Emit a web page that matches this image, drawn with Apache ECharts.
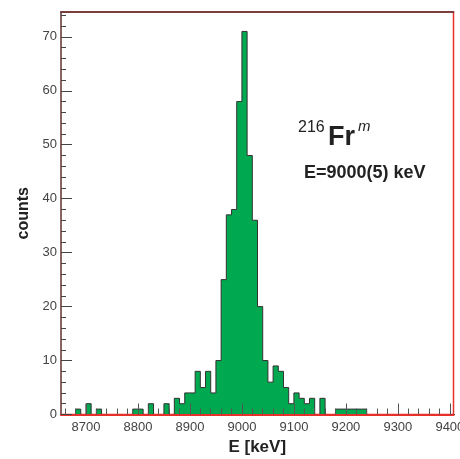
<!DOCTYPE html>
<html>
<head>
<meta charset="utf-8">
<script src="https://cdn.jsdelivr.net/npm/echarts@6/dist/echarts.min.js"></script>
<style>html,body{margin:0;padding:0;background:#fff}#c{width:460px;height:459px}</style>
</head>
<body>
<div id="c"></div>
<script>
// Histogram bins (left edges, keV) and counts
const binStart = [
  8650,8660,8670,8680,8690,8700,8710,8720,8730,8740,
  8750,8760,8770,8780,8790,8800,8810,8820,8830,8840,
  8850,8860,8870,8880,8890,8900,8910,8920,8930,8940,
  8950,8960,8970,8980,8990,9000,9010,9020,9030,9040,
  9050,9060,9070,9080,9090,9100,9110,9120,9130,9140,
  9150,9160,9170,9180,9190,9200,9210,9220,9230,9240,
  9250,9260,9270,9280,9290,9300,9310,9320,9330,9340,
  9350,9360,9370,9380,9390,9400
];
const counts = [
  0,0,0,1,0,2,0,1,0,0,
  0,0,0,0,1,1,0,2,0,0,
  2,0,3,2,4,4,8,5,8,4,
  10,25,37,38,58,71,48,36,20,10,
  6,9,8,5,2,4,3,2,3,0,
  3,0,0,1,1,1,1,1,1,0,
  0,0,0,0,0,0,0,0,0,0,
  0,0,0,0,0,0
];
const binWidth = 10;
const xMajorTicks = [8700,8800,8900,9000,9100,9200,9300,9400];
const xMinorTicks = [8660,8680,8700,8720,8740,8760,8780,8800,8820,8840,8860,8880,8900,8920,8940,8960,8980,9000,9020,9040,9060,9080,9100,9120,9140,9160,9180,9200,9220,9240,9260,9280,9300,9320,9340,9360,9380,9400];
const yMajorTicks = [0,10,20,30,40,50,60,70];
const yMinorTicks = [0,2,4,6,8,10,12,14,16,18,20,22,24,26,28,30,32,34,36,38,40,42,44,46,48,50,52,54,56,58,60,62,64,66,68,70,72,74];

const stepData = binStart.map((e, i) => [e, counts[i]]);
stepData.push([binStart[binStart.length - 1] + binWidth, counts[counts.length - 1]]);

const FONT = 'Liberation Sans, Arial, Helvetica, sans-serif';
const XMIN = 8652, XMAX = 9407, YMAX = 74.6;

const chart = echarts.init(document.getElementById('c'), null, {renderer: 'canvas'});
chart.setOption({
  animation: false,
  backgroundColor: '#fff',
  grid: {left: 61, right: 6.5, top: 12, bottom: 44.5, containLabel: false, outerBoundsMode: 'none',
         show: true, borderColor: '#e8302a', borderWidth: 1.5, backgroundColor: 'transparent'},
  xAxis: [
    {type: 'value', min: XMIN, max: XMAX, position: 'bottom', z: 5,
     name: 'E [keV]', nameLocation: 'middle', nameGap: 24,
     nameTextStyle: {fontFamily: FONT, fontWeight: 'bold', fontSize: 17, color: '#222'},
     axisLine: {show: true, lineStyle: {color: '#e8302a', width: 2}},
     axisTick: {show: true, inside: true, length: 11, customValues: xMajorTicks, lineStyle: {color: '#555', width: 1}},
     axisLabel: {show: true, customValues: xMajorTicks, margin: 6, fontFamily: FONT, fontSize: 13, color: '#444',
                 formatter: v => String(v), hideOverlap: false},
     splitLine: {show: false}},
    {type: 'value', min: XMIN, max: XMAX, position: 'bottom', z: 5,
     axisLine: {show: false},
     axisTick: {show: true, inside: true, length: 6, customValues: xMinorTicks, lineStyle: {color: '#555', width: 1}},
     axisLabel: {show: false}, splitLine: {show: false}},
    {type: 'value', min: XMIN, max: XMAX, position: 'top', z: 5,
     axisLine: {show: true, lineStyle: {color: '#553333', width: 1.5}},
     axisTick: {show: false}, axisLabel: {show: false}, splitLine: {show: false}}
  ],
  yAxis: [
    {type: 'value', min: 0, max: YMAX, position: 'left', z: 5,
     name: 'counts', nameLocation: 'middle', nameGap: 29, nameRotate: 90,
     nameTextStyle: {fontFamily: FONT, fontWeight: 'bold', fontSize: 16, color: '#222'},
     axisLine: {show: true, lineStyle: {color: '#666', width: 1.5}},
     axisTick: {show: true, inside: true, length: 11, customValues: yMajorTicks, lineStyle: {color: '#444', width: 1}},
     axisLabel: {show: true, customValues: yMajorTicks, margin: 4, fontFamily: FONT, fontSize: 13, color: '#444'},
     splitLine: {show: false}},
    {type: 'value', min: 0, max: YMAX, position: 'left', z: 5,
     axisLine: {show: false},
     axisTick: {show: true, inside: true, length: 5, customValues: yMinorTicks, lineStyle: {color: '#444', width: 1}},
     axisLabel: {show: false}, splitLine: {show: false}}
  ],
  series: [{
    type: 'line', xAxisIndex: 0, yAxisIndex: 0,
    step: 'end', data: stepData, symbol: 'none', clip: true,
    lineStyle: {color: '#333', width: 1},
    areaStyle: {color: '#00a84f', opacity: 1}
  }],
  graphic: [
    {type: 'text', left: 298, top: 120, style: {text: '216', font: '16px ' + FONT, fill: '#222'}},
    {type: 'text', left: 328, top: 124, style: {text: 'Fr', font: 'bold 27px ' + FONT, fill: '#222'}},
    {type: 'text', left: 358, top: 119, style: {text: 'm', font: 'italic 15px ' + FONT, fill: '#222'}},
    {type: 'text', left: 304, top: 164, style: {text: 'E=9000(5) keV', font: 'bold 18px ' + FONT, fill: '#222'}}
  ]
});
</script>
</body>
</html>
